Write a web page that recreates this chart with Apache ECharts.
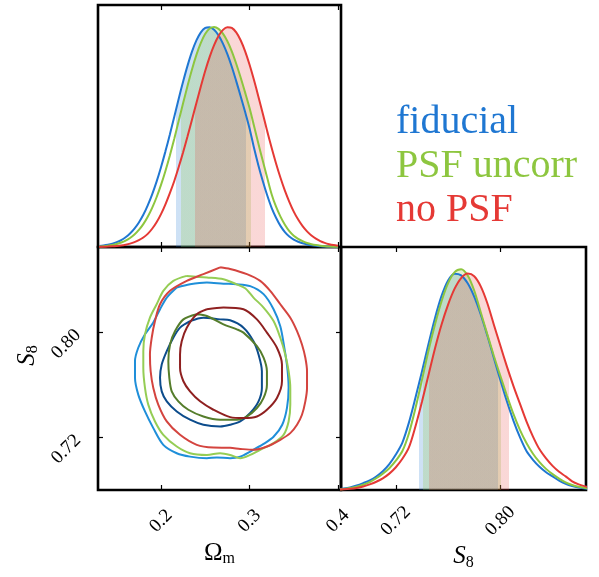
<!DOCTYPE html>
<html>
<head>
<meta charset="utf-8">
<script src="https://cdn.jsdelivr.net/npm/echarts@6/dist/echarts.min.js"></script>
<style>
html,body{margin:0;padding:0;background:#ffffff;}
#chart{width:599px;height:577px;}
</style>
</head>
<body>
<div id="chart"></div>
<script>
// ---------------- data ----------------
const datasetNames = ['fiducial', 'PSF uncorr', 'no PSF'];

// 1D marginal of Omega_m (peak normalised to 1)
const omegaGrid = [0.130,0.135,0.140,0.145,0.150,0.155,0.160,0.165,0.170,0.175,0.180,0.185,0.190,0.195,0.200,0.205,0.210,0.215,0.220,0.225,0.230,0.235,0.240,0.245,0.250,0.255,0.260,0.265,0.270,0.275,0.280,0.285,0.290,0.295,0.300,0.305,0.310,0.315,0.320,0.325,0.330,0.335,0.340,0.345,0.350,0.355,0.360,0.365,0.370,0.375,0.380,0.385,0.390,0.395,0.400];
const omegaDensityFiducial = [0.0044,0.0067,0.0101,0.0150,0.0220,0.0317,0.0446,0.0617,0.0837,0.1116,0.1463,0.1894,0.2394,0.2973,0.3628,0.4347,0.5117,0.5919,0.6743,0.7523,0.8245,0.8880,0.9390,0.9758,0.9964,0.9991,0.9872,0.9621,0.9247,0.8766,0.8195,0.7540,0.6856,0.6146,0.5400,0.4520,0.3720,0.3000,0.2350,0.1780,0.1330,0.0960,0.0680,0.0480,0.0340,0.0240,0.0167,0.0114,0.0078,0.0052,0.0034,0.0021,0.0013,0.0008,0.0005];
const omegaDensityPsfUncorr = [0.0025,0.0039,0.0060,0.0092,0.0137,0.0202,0.0290,0.0410,0.0569,0.0777,0.1041,0.1378,0.1781,0.2262,0.2821,0.3457,0.4161,0.4921,0.5735,0.6542,0.7332,0.8072,0.8730,0.9275,0.9689,0.9930,1.0000,0.9914,0.9696,0.9351,0.8896,0.8331,0.7706,0.7029,0.6325,0.5520,0.4700,0.3920,0.3150,0.2400,0.1830,0.1380,0.1010,0.0720,0.0510,0.0370,0.0265,0.0185,0.0128,0.0086,0.0057,0.0038,0.0024,0.0015,0.0010];
const omegaDensityNoPsf = [0.0007,0.0012,0.0019,0.0029,0.0046,0.0069,0.0104,0.0152,0.0219,0.0311,0.0433,0.0598,0.0829,0.1126,0.1496,0.1941,0.2450,0.3002,0.3634,0.4311,0.5036,0.5787,0.6550,0.7295,0.8012,0.8643,0.9177,0.9592,0.9868,0.9993,0.9959,0.9753,0.9396,0.8901,0.8293,0.7598,0.6846,0.6065,0.5267,0.4512,0.3799,0.3148,0.2563,0.2053,0.1608,0.1246,0.0948,0.0710,0.0523,0.0379,0.0267,0.0187,0.0129,0.0087,0.0058];

// 1D marginal of S8
const s8Grid = [0.675,0.680,0.685,0.690,0.695,0.700,0.705,0.710,0.715,0.720,0.725,0.730,0.735,0.740,0.745,0.750,0.755,0.760,0.765,0.770,0.775,0.780,0.785,0.790,0.795,0.800,0.805,0.810,0.815,0.820,0.825,0.830,0.835,0.840,0.845,0.850,0.855,0.860,0.865,0.870];
const s8DensityFiducial = [0.0037,0.0068,0.0118,0.0201,0.0312,0.0438,0.0613,0.0852,0.1176,0.1608,0.2150,0.3050,0.4174,0.5370,0.6612,0.7791,0.8785,0.9484,0.9789,0.9715,0.9356,0.8750,0.7944,0.7001,0.5991,0.4977,0.4015,0.3144,0.2390,0.1764,0.1368,0.1052,0.0806,0.0615,0.0424,0.0281,0.0182,0.0115,0.0070,0.0042];
const s8DensityPsfUncorr = [0.0026,0.0048,0.0086,0.0149,0.0236,0.0357,0.0531,0.0738,0.0988,0.1329,0.1766,0.2561,0.3697,0.4984,0.6314,0.7505,0.8545,0.9361,0.9862,0.9995,0.9711,0.9030,0.8047,0.7057,0.6080,0.5169,0.4280,0.3442,0.2723,0.2130,0.1643,0.1260,0.0956,0.0720,0.0519,0.0347,0.0226,0.0143,0.0089,0.0054];
const s8DensityNoPsf = [0.0016,0.0029,0.0052,0.0091,0.0155,0.0255,0.0374,0.0529,0.0741,0.1030,0.1412,0.1928,0.2878,0.3997,0.5206,0.6419,0.7495,0.8393,0.9114,0.9595,0.9798,0.9677,0.9218,0.8465,0.7495,0.6539,0.5597,0.4717,0.3910,0.3108,0.2419,0.1841,0.1431,0.1091,0.0824,0.0618,0.0389,0.0255,0.0163,0.0102];

// 68% intervals (shaded bands)
const omegaInterval68 = [[0.2164,0.2959],[0.2230,0.3019],[0.2382,0.3178]];
const s8Interval68 = [[0.7374,0.7982],[0.7405,0.8002],[0.7451,0.8064]];

// 2D contours [Omega_m, S8]
const contourFiducial95 = [[0.2178,0.8342],[0.2328,0.8367],[0.2518,0.8380],[0.2706,0.8371],[0.2849,0.8367],[0.3008,0.8352],[0.3159,0.8291],[0.3272,0.8176],[0.3348,0.8046],[0.3393,0.7885],[0.3427,0.7732],[0.3442,0.7580],[0.3424,0.7427],[0.3370,0.7297],[0.3272,0.7205],[0.3159,0.7151],[0.3008,0.7093],[0.2895,0.7054],[0.2781,0.7042],[0.2631,0.7048],[0.2518,0.7042],[0.2328,0.7054],[0.2178,0.7080],[0.2026,0.7144],[0.1913,0.7271],[0.1819,0.7398],[0.1743,0.7526],[0.1706,0.7654],[0.1706,0.7781],[0.1743,0.7883],[0.1819,0.7985],[0.1913,0.8076],[0.1989,0.8176],[0.2065,0.8265]];
const contourPsfUncorr95 = [[0.2291,0.8430],[0.2518,0.8418],[0.2706,0.8405],[0.2849,0.8367],[0.2951,0.8336],[0.3045,0.8265],[0.3159,0.8189],[0.3272,0.8086],[0.3348,0.7959],[0.3404,0.7832],[0.3442,0.7704],[0.3461,0.7577],[0.3461,0.7450],[0.3442,0.7322],[0.3385,0.7220],[0.3272,0.7157],[0.3121,0.7106],[0.3008,0.7067],[0.2895,0.7042],[0.2781,0.7067],[0.2668,0.7080],[0.2518,0.7067],[0.2328,0.7080],[0.2178,0.7131],[0.2026,0.7220],[0.1932,0.7322],[0.1856,0.7450],[0.1819,0.7577],[0.1800,0.7730],[0.1800,0.7857],[0.1819,0.7985],[0.1875,0.8112],[0.1951,0.8214],[0.2026,0.8316],[0.2139,0.8392]];
const contourNoPsf95 = [[0.2668,0.8495],[0.2781,0.8482],[0.2971,0.8443],[0.3121,0.8392],[0.3234,0.8316],[0.3348,0.8214],[0.3461,0.8112],[0.3537,0.8010],[0.3593,0.7908],[0.3631,0.7807],[0.3650,0.7704],[0.3650,0.7577],[0.3631,0.7475],[0.3593,0.7373],[0.3537,0.7297],[0.3461,0.7233],[0.3348,0.7182],[0.3197,0.7131],[0.3045,0.7106],[0.2895,0.7113],[0.2781,0.7121],[0.2592,0.7123],[0.2404,0.7144],[0.2215,0.7220],[0.2065,0.7322],[0.1969,0.7450],[0.1913,0.7577],[0.1883,0.7704],[0.1875,0.7832],[0.1895,0.7959],[0.1932,0.8086],[0.1989,0.8214],[0.2102,0.8316],[0.2291,0.8392],[0.2479,0.8443]];
const contourFiducial68 = [[0.2328,0.8086],[0.2479,0.8112],[0.2668,0.8099],[0.2781,0.8092],[0.2932,0.8036],[0.3045,0.7933],[0.3102,0.7832],[0.3140,0.7704],[0.3140,0.7577],[0.3102,0.7475],[0.3008,0.7386],[0.2895,0.7322],[0.2781,0.7297],[0.2668,0.7284],[0.2479,0.7297],[0.2328,0.7335],[0.2178,0.7398],[0.2065,0.7475],[0.2008,0.7551],[0.1989,0.7654],[0.2008,0.7755],[0.2065,0.7857],[0.2139,0.7959],[0.2215,0.8036]];
const contourPsfUncorr68 = [[0.2404,0.8138],[0.2518,0.8125],[0.2706,0.8061],[0.2857,0.8023],[0.2932,0.7998],[0.3084,0.7895],[0.3159,0.7807],[0.3197,0.7704],[0.3197,0.7602],[0.3159,0.7501],[0.3084,0.7424],[0.2971,0.7360],[0.2857,0.7335],[0.2668,0.7335],[0.2479,0.7360],[0.2309,0.7411],[0.2196,0.7475],[0.2121,0.7551],[0.2094,0.7654],[0.2083,0.7781],[0.2102,0.7908],[0.2159,0.8010],[0.2253,0.8099]];
const contourNoPsf68 = [[0.2518,0.8176],[0.2706,0.8189],[0.2932,0.8176],[0.3084,0.8099],[0.3197,0.7998],[0.3310,0.7883],[0.3367,0.7755],[0.3367,0.7628],[0.3310,0.7501],[0.3197,0.7411],[0.3084,0.7360],[0.2932,0.7348],[0.2781,0.7355],[0.2592,0.7411],[0.2442,0.7475],[0.2328,0.7551],[0.2253,0.7628],[0.2215,0.7730],[0.2215,0.7832],[0.2234,0.7933],[0.2291,0.8036],[0.2404,0.8138]];

// axis ranges and ticks
const omegaRange = [0.1288, 0.4034];
const s8RangeX = [0.678, 0.8656];
const s8RangeY = [0.680, 0.865];
const densityRange = [0, 1.1];
const omegaTickValues = [0.2, 0.3, 0.4];
const omegaTickLabels = ['0.2', '0.3', '0.4'];
const s8TickValues = [0.72, 0.80];
const s8TickLabels = ['0.72', '0.80'];

// ---------------- styles ----------------
const FONT = 'Liberation Serif';
const lineColors = ['#1f77d2', '#8dc63f', '#e53935'];
const fillColors = ['rgba(31,119,210,0.22)', 'rgba(141,198,63,0.24)', 'rgba(229,57,53,0.2)'];
const outerColors = ['#1f8fd9', '#95cd55', '#d4443f'];
const innerColors = ['#0c4c8c', '#557d2b', '#8f2020'];

function pairs(xs, ys) { return xs.map((x, i) => [x, ys[i]]); }
function closed(c) { return c.concat([c[0]]); }

const omegaDensities = [omegaDensityFiducial, omegaDensityPsfUncorr, omegaDensityNoPsf];
const s8Densities = [s8DensityFiducial, s8DensityPsfUncorr, s8DensityNoPsf];
const contours95 = [contourFiducial95, contourPsfUncorr95, contourNoPsf95];
const contours68 = [contourFiducial68, contourPsfUncorr68, contourNoPsf68];

const tickBase = {show: true, inside: true, length: 5, lineStyle: {color: '#000', width: 1.2}};
function tickAxis(gridIndex, position, range, ticks, extra) {
  return Object.assign({
    type: 'value', gridIndex: gridIndex, position: position,
    min: range[0], max: range[1],
    axisLine: {show: false}, splitLine: {show: false},
    axisTick: Object.assign({customValues: ticks}, tickBase),
    axisLabel: {show: false}
  }, extra || {});
}
function labelCfg(ticks, labels, isY) {
  return {
    show: true, customValues: ticks,
    formatter: v => labels[ticks.indexOf(v)] || '',
    rotate: 45,
    align: isY ? 'right' : 'center',
    verticalAlign: 'middle',
    margin: isY ? 20 : 31,
    fontSize: 19, fontFamily: FONT, color: '#000'
  };
}
const nameRich = {
  r: {fontSize: 25, fontFamily: FONT, color: '#000', lineHeight: 28},
  i: {fontSize: 25, fontFamily: FONT, fontStyle: 'italic', color: '#000', lineHeight: 28},
  s: {fontSize: 16, fontFamily: FONT, color: '#000', lineHeight: 16, padding: [12, 0, 0, 0], verticalAlign: 'bottom'}
};

const xAxis = [
  tickAxis(0, 'bottom', omegaRange, omegaTickValues),
  tickAxis(0, 'top', omegaRange, omegaTickValues),
  tickAxis(1, 'bottom', omegaRange, omegaTickValues, {
    axisLabel: labelCfg(omegaTickValues, omegaTickLabels, false),
    name: '{r|Ω}{s|m}', nameLocation: 'middle', nameGap: 44,
    nameTextStyle: {rich: nameRich}
  }),
  tickAxis(1, 'top', omegaRange, omegaTickValues),
  tickAxis(2, 'bottom', s8RangeX, s8TickValues, {
    axisLabel: labelCfg(s8TickValues, s8TickLabels, false),
    name: '{i|S}{s|8}', nameLocation: 'middle', nameGap: 50,
    nameTextStyle: {rich: nameRich}
  }),
  tickAxis(2, 'top', s8RangeX, s8TickValues)
];
const yAxis = [
  {type: 'value', gridIndex: 0, min: densityRange[0], max: densityRange[1], show: false},
  tickAxis(1, 'left', s8RangeY, s8TickValues, {
    axisLabel: labelCfg(s8TickValues, s8TickLabels, true),
    name: '{i|S}{s|8}', nameLocation: 'middle', nameGap: 57, nameRotate: 90,
    nameTextStyle: {rich: nameRich, padding: [0, 0, 0, 26]}
  }),
  tickAxis(1, 'right', s8RangeY, s8TickValues),
  {type: 'value', gridIndex: 2, min: densityRange[0], max: densityRange[1], show: false}
];

const series = [];
const visualMap = [];
function addMarginal(i, xs, ys, interval, xi, yi) {
  series.push({
    type: 'line', name: datasetNames[i], xAxisIndex: xi, yAxisIndex: yi,
    data: pairs(xs, ys), smooth: 0.3, symbol: 'none',
    lineStyle: {color: lineColors[i], width: 2}, itemStyle: {color: lineColors[i]}
  });
  visualMap.push({
    type: 'piecewise', show: false, dimension: 0, seriesIndex: series.length,
    pieces: [{gte: interval[0], lte: interval[1], color: fillColors[i]}],
    outOfRange: {color: 'rgba(255,255,255,0)'}
  });
  series.push({
    type: 'line', name: datasetNames[i], xAxisIndex: xi, yAxisIndex: yi,
    data: pairs(xs, ys), smooth: 0.3, symbol: 'none',
    lineStyle: {width: 0}, areaStyle: {opacity: 1}
  });
}
for (let i = 0; i < 3; i++) addMarginal(i, omegaGrid, omegaDensities[i], omegaInterval68[i], 0, 0);
for (let i = 0; i < 3; i++) addMarginal(i, s8Grid, s8Densities[i], s8Interval68[i], 4, 3);
for (let i = 0; i < 3; i++) {
  series.push({
    type: 'line', name: datasetNames[i], xAxisIndex: 2, yAxisIndex: 1,
    data: closed(contours95[i]), smooth: 0.3, symbol: 'none',
    lineStyle: {color: outerColors[i], width: 2}, itemStyle: {color: outerColors[i]}
  });
  series.push({
    type: 'line', name: datasetNames[i], xAxisIndex: 2, yAxisIndex: 1,
    data: closed(contours68[i]), smooth: 0.3, symbol: 'none',
    lineStyle: {color: innerColors[i], width: 2}, itemStyle: {color: innerColors[i]}
  });
}

const gridBase = {show: true, borderColor: '#000', borderWidth: 2.6, backgroundColor: 'rgba(0,0,0,0)', containLabel: false};
const option = {
  animation: false,
  backgroundColor: '#ffffff',
  grid: [
    Object.assign({left: 98, top: 5, width: 243, height: 242}, gridBase),
    Object.assign({left: 98, top: 247, width: 243, height: 243}, gridBase),
    Object.assign({left: 341, top: 247, width: 245, height: 243}, gridBase)
  ],
  legend: {
    orient: 'vertical', left: 391, top: 102, padding: 0, itemGap: 4,
    icon: 'none', itemWidth: 0, itemHeight: 0, selectedMode: false,
    textStyle: {fontSize: 40, fontFamily: FONT},
    data: datasetNames.map((n, i) => ({name: n, textStyle: {color: lineColors[i]}}))
  },
  xAxis: xAxis,
  yAxis: yAxis,
  visualMap: visualMap,
  series: series
};

const chart = echarts.init(document.getElementById('chart'), null, {renderer: 'canvas'});
chart.setOption(option);
</script>
</body>
</html>
